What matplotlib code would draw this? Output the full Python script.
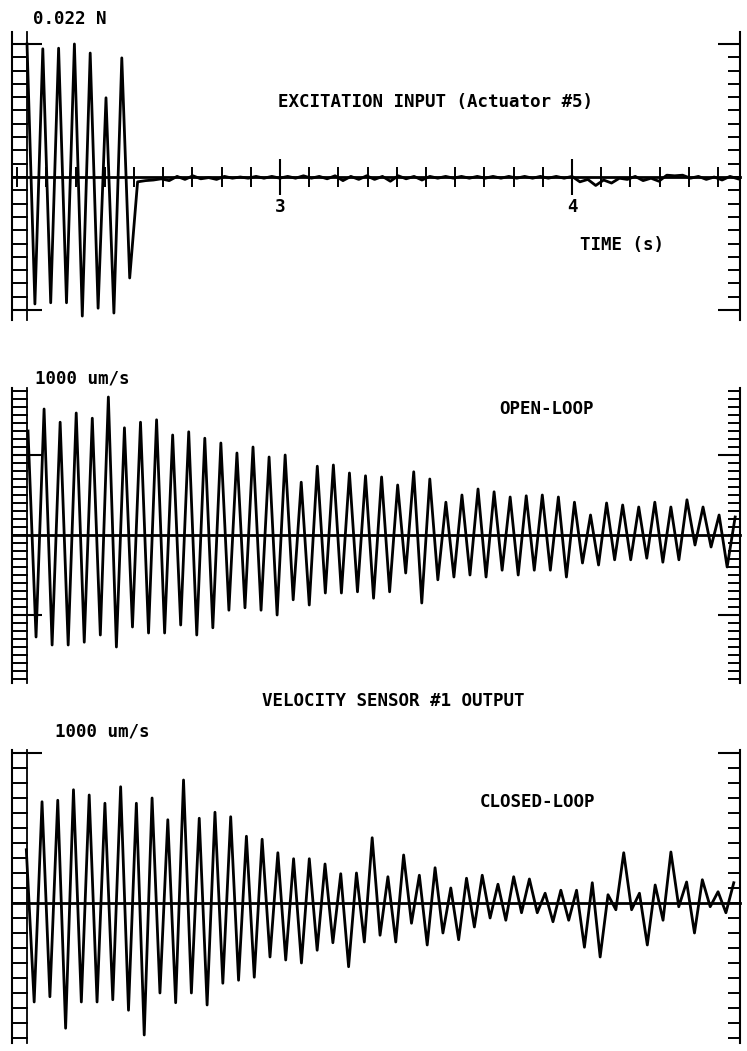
import numpy as np
import matplotlib
matplotlib.use("Agg")
import matplotlib.pyplot as plt
from matplotlib.ticker import MultipleLocator, FixedLocator, NullLocator, FuncFormatter

# ---------------- data ----------------
# Excitation input (actuator #5), newtons: alternating crest / trough values of the
# tone burst, then the small residual left on the channel once the burst stops.
EXC_BURST = [0.0220, -0.0210, 0.0212, -0.0208, 0.0213, -0.0208, 0.0220, -0.0230,
             0.0205, -0.0217, 0.0131, -0.0225, 0.0197, -0.0167]
EXC_RESIDUAL = [-0.0008, -0.0006, -0.0005, -0.0003, -0.0006, 0.0001, -0.0004, 0.0002, -0.0003, -0.0001,
                -0.0004, 0.0001, -0.0002, 0.0000, -0.0002, 0.0001, -0.0002, 0.0001, -0.0002, 0.0001,
                -0.0002, 0.0002, -0.0002, 0.0001, -0.0003, 0.0002, -0.0006, 0.0001, -0.0004, 0.0002,
                -0.0004, 0.0001, -0.0007, 0.0002, -0.0003, 0.0001, -0.0005, 0.0001, -0.0002, 0.0001,
                -0.0002, 0.0001, -0.0002, 0.0001, -0.0002, 0.0001, -0.0002, 0.0001, -0.0002, 0.0001,
                -0.0002, 0.0001, -0.0002, 0.0001, -0.0002, 0.0001, -0.0008, -0.0004, -0.0014, -0.0005,
                -0.0010, -0.0002, -0.0004, 0.0001, -0.0006, -0.0002, -0.0007, 0.0003, 0.0002, 0.0003,
                -0.0002, 0.0001, -0.0004, 0.0000, -0.0005, 0.0001, -0.0003]
EXC_START_S = 2.1336          # time of the first crest
EXC_HALF_PERIOD_S = 0.02705   # crest-to-trough spacing

# Velocity sensor #1, open loop (um/s): crest and trough of every cycle
OPEN_PEAKS = [1300, 1575, 1410, 1525, 1460, 1725, 1340, 1410, 1440, 1250, 1290, 1210,
              1150, 1025, 1100, 975, 1000, 660, 860, 875, 775, 740, 725, 625, 790, 700,
              410, 500, 575, 540, 475, 490, 500, 475, 410, 250, 400, 375, 350, 410, 350,
              440, 350, 250, 225]
OPEN_TROUGHS = [-1275, -1375, -1375, -1340, -1250, -1400, -1150, -1225, -1225, -1125,
                -1250, -1160, -940, -910, -940, -1000, -810, -875, -725, -725, -710, -790,
                -710, -475, -850, -560, -525, -500, -525, -440, -500, -440, -440, -525,
                -350, -375, -310, -310, -290, -340, -310, -125, -150, -400]
OPEN_START_S = 2.1370
OPEN_HALF_PERIOD_S = 0.02752

# Velocity sensor #1, closed loop (um/s)
CLOSED_PEAKS = [710, 1350, 1370, 1510, 1440, 1330, 1550, 1330, 1400, 1110, 1640, 1130,
                1210, 1150, 890, 850, 670, 590, 590, 520, 390, 400, 870, 350, 640, 370,
                470, 200, 330, 370, 250, 350, 320, 130, 170, 170, 270, 110, 670, 130, 240,
                680, 280, 310, 150, 270]
CLOSED_TROUGHS = [-1320, -1250, -1670, -1320, -1320, -1290, -1430, -1760, -1200, -1330,
                  -1200, -1360, -1070, -1030, -990, -720, -760, -800, -630, -530, -850,
                  -520, -430, -520, -270, -560, -400, -490, -320, -200, -230, -130, -130,
                  -250, -230, -590, -720, -90, -90, -560, -230, -50, -400, -50, -130]
CLOSED_START_S = 2.1312
CLOSED_HALF_PERIOD_S = 0.02692

TIME_RANGE = (2.0822, 4.5753)
TIME_TICK_LABELS = ["3", "4"]


def alternate(peaks, troughs):
    vals = np.empty(len(peaks) + len(troughs))
    vals[0::2] = peaks
    vals[1::2] = troughs
    return vals


def trace_times(start, half, n):
    return start + half * np.arange(n)


# ---------------- figure ----------------
W, H = 747, 1051
fig = plt.figure(figsize=(W / 100, H / 100), dpi=100)
fig.patch.set_facecolor("white")

FONT = dict(family="DejaVu Sans Mono", weight="bold", size=12.6, color="black")
INK = "black"
TRACE_LW = 2.0


def fx(px):
    return px / W


def fy(py):
    return 1 - py / H


def panel(top_px, bot_px, ylim, minor_step, long_ticks, left_long=30, right_long=22):
    rect = [fx(12), fy(bot_px), fx(740) - fx(12), fy(top_px) - fy(bot_px)]
    ax = fig.add_axes(rect)
    ax.set_xlim(*TIME_RANGE)
    ax.set_ylim(*ylim)
    ax.patch.set_visible(False)
    ax.spines["top"].set_visible(False)
    ax.spines["bottom"].set_position(("data", 0))
    ax.spines["bottom"].set_linewidth(2.0)
    ax.spines["left"].set_linewidth(1.5)
    ax.spines["right"].set_visible(False)

    # ladder scale on the left
    ax.yaxis.set_minor_locator(MultipleLocator(minor_step))
    ax.yaxis.set_major_locator(FixedLocator(long_ticks))
    ax.yaxis.set_ticks_position("left")
    ax.tick_params(axis="y", which="minor", direction="in", length=11.5, width=1.4,
                   labelleft=False)
    ax.tick_params(axis="y", which="major", direction="in", length=left_long * 0.72,
                   width=1.5, labelleft=False)
    ax.plot([15 / 728, 15 / 728], [0, 1], transform=ax.transAxes, color=INK, lw=1.3,
            clip_on=False)

    # tick scale on the right
    rx = ax.twinx()
    rx.set_ylim(*ylim)
    for s in ("top", "bottom", "left"):
        rx.spines[s].set_visible(False)
    rx.spines["right"].set_linewidth(1.5)
    rx.yaxis.set_minor_locator(MultipleLocator(minor_step))
    rx.yaxis.set_major_locator(FixedLocator(long_ticks))
    rx.tick_params(axis="y", which="minor", direction="in", length=8.5, width=1.4,
                   labelright=False)
    rx.tick_params(axis="y", which="major", direction="in", length=right_long * 0.72,
                   width=1.5, labelright=False)
    return ax


# ---- excitation input ----
ax1 = panel(32, 320, (-0.02365, 0.02398), 0.0022, [-0.022, 0.022])
exc = np.concatenate([EXC_BURST, EXC_RESIDUAL])
ax1.plot(trace_times(EXC_START_S, EXC_HALF_PERIOD_S, len(exc)), exc, color=INK, lw=TRACE_LW)
ax1.xaxis.set_major_locator(FixedLocator([3, 4]))
ax1.xaxis.set_minor_locator(MultipleLocator(0.1))
ax1.xaxis.set_major_formatter(FuncFormatter(
    lambda v, p: TIME_TICK_LABELS[p] if p is not None and p < len(TIME_TICK_LABELS) else ""))
ax1.tick_params(axis="x", which="major", direction="inout", length=26, width=1.5, pad=2,
                labelsize=12.6)
ax1.tick_params(axis="x", which="minor", direction="inout", length=14, width=1.4)
for lab in ax1.get_xticklabels():
    lab.set_fontfamily("DejaVu Sans Mono")
    lab.set_fontweight("bold")

# ---- open loop ----
ax2 = panel(388, 683, (-1850, 1837.5), 100, [-1000, 1000])
ol = alternate(OPEN_PEAKS, OPEN_TROUGHS)
ax2.plot(trace_times(OPEN_START_S, OPEN_HALF_PERIOD_S, len(ol)), ol, color=INK, lw=TRACE_LW)
ax2.xaxis.set_major_locator(NullLocator())
ax2.xaxis.set_minor_locator(NullLocator())

# ---- closed loop ----
ax3 = panel(750, 1043, (-1867, 2040), 200, [2000])
cl = alternate(CLOSED_PEAKS, CLOSED_TROUGHS)
ax3.plot(trace_times(CLOSED_START_S, CLOSED_HALF_PERIOD_S, len(cl)), cl, color=INK, lw=TRACE_LW)
ax3.xaxis.set_major_locator(NullLocator())
ax3.xaxis.set_minor_locator(NullLocator())

# ---- annotations ----
def label(px, py, s):
    fig.text(fx(px), fy(py + 6.3), s, ha="left", va="baseline", **FONT)

label(33, 18, "0.022 N")
label(278, 101, "EXCITATION INPUT (Actuator #5)")
label(580, 244, "TIME (s)")
label(35, 377, "1000 um/s")
label(499, 408, "OPEN-LOOP")
label(262, 700, "VELOCITY SENSOR #1 OUTPUT")
label(55, 730, "1000 um/s")
label(480, 801, "CLOSED-LOOP")

fig.savefig("out.png", dpi=100, facecolor="white")
